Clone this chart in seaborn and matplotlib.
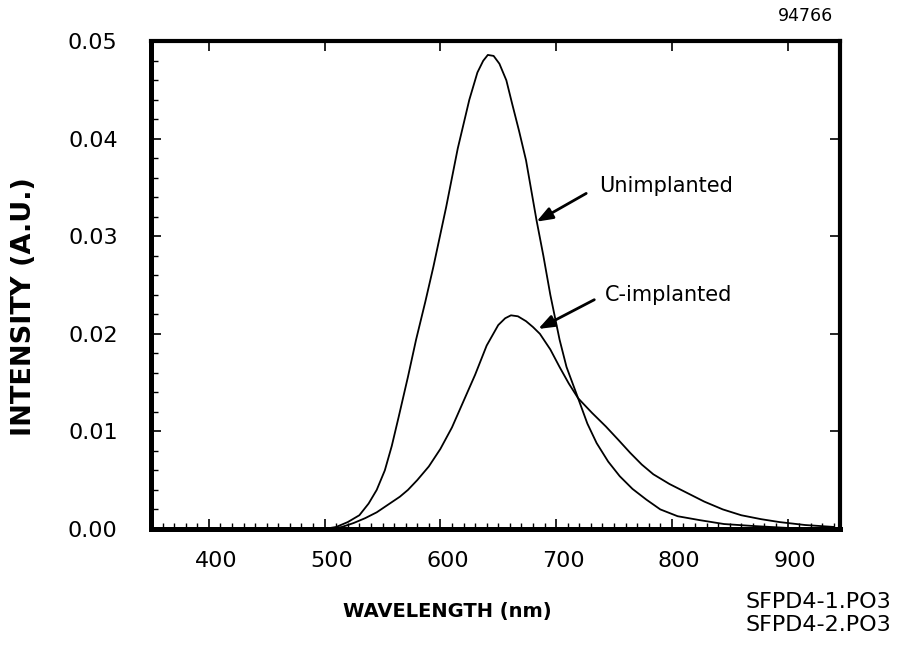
# PL spectra, unimplanted vs C-implanted
import numpy as np
import pandas as pd
import seaborn as sns
import matplotlib.pyplot as plt
from matplotlib.ticker import MultipleLocator
from matplotlib.transforms import ScaledTranslation

# data
unimp_nm = [500, 510, 520, 530, 538, 545, 552, 558, 564, 572, 579, 587, 594, 605, 615,
            625, 632, 637, 641, 646, 651, 657, 662, 668, 674, 683, 689, 695, 703, 709,
            719, 727, 735, 745, 755, 766, 778, 790, 805, 824, 845, 870, 900, 940]
unimp_int = [0.0, 0.0002, 0.0007, 0.0014, 0.0026, 0.0040, 0.0060, 0.0085, 0.0115, 0.0156,
             0.0194, 0.0233, 0.0269, 0.0330, 0.0390, 0.0440, 0.0468, 0.0480, 0.0486, 0.0485,
             0.0477, 0.0460, 0.0436, 0.0408, 0.0378, 0.0317, 0.0280, 0.0240, 0.0194, 0.0166,
             0.0134, 0.0108, 0.0088, 0.0069, 0.0054, 0.0041, 0.0030, 0.0020, 0.0013, 0.0009,
             0.0005, 0.0003, 0.0001, 0.0]

cimp_nm = [505, 515, 525, 535, 545, 555, 565, 572, 580, 590, 600, 610, 620, 630, 640,
           650, 656, 661, 667, 674, 680, 686, 695, 703, 711, 719, 731, 743, 754, 764,
           774, 784, 798, 813, 828, 844, 860, 877, 893, 915, 940]
cimp_int = [0.0, 0.0002, 0.0006, 0.0011, 0.0017, 0.0025, 0.0033, 0.0040, 0.0050, 0.0064,
            0.0082, 0.0104, 0.0131, 0.0158, 0.0188, 0.0209, 0.0216, 0.0219, 0.0218, 0.0213,
            0.0207, 0.0200, 0.0184, 0.0166, 0.0149, 0.0134, 0.0119, 0.0105, 0.0091, 0.0078,
            0.0066, 0.0056, 0.0046, 0.0037, 0.0028, 0.0020, 0.0014, 0.0010, 0.0007, 0.0004,
            0.0002]

x_ticks = [400, 500, 600, 700, 800, 900]
y_ticks = [0.00, 0.01, 0.02, 0.03, 0.04, 0.05]
y_tick_labels = ['0.00', '0.01', '0.02', '0.03', '0.04', '0.05']

df = pd.concat([
    pd.DataFrame({'wavelength': unimp_nm, 'intensity': unimp_int, 'sample': 'Unimplanted'}),
    pd.DataFrame({'wavelength': cimp_nm, 'intensity': cimp_int, 'sample': 'C-implanted'}),
])

sns.set_theme(style='white')
plt.rcParams['font.family'] = ['DejaVu Sans']
plt.rcParams['text.color'] = 'black'
plt.rcParams['axes.labelcolor'] = 'black'
plt.rcParams['xtick.color'] = 'black'
plt.rcParams['ytick.color'] = 'black'

fig = plt.figure(figsize=(8.99, 6.45), dpi=100)
ax = fig.add_axes([0.168, 0.180, 0.766, 0.756])

sns.lineplot(data=df, x='wavelength', y='intensity', hue='sample', estimator=None,
             sort=False, palette=['black', 'black'], linewidth=1.3, legend=False, ax=ax)

ax.set_xlim(350, 945)
ax.set_ylim(0, 0.05)

# frame
for side in ['left', 'bottom']:
    ax.spines[side].set_linewidth(3.6)
for side in ['top', 'right']:
    ax.spines[side].set_linewidth(3.0)
for s in ax.spines.values():
    s.set_color('black')
    s.set_visible(True)

ax.set_xticks(x_ticks)
ax.xaxis.set_minor_locator(MultipleLocator(10))
ax.set_yticks(y_ticks)
ax.set_yticklabels(y_tick_labels)
ax.yaxis.set_minor_locator(MultipleLocator(0.002))

ax.tick_params(axis='x', which='major', direction='in', length=7, width=1.2,
               top=True, bottom=True, labelsize=16, pad=16)
ax.tick_params(axis='x', which='minor', direction='in', length=4, width=1.0,
               top=False, bottom=True)
ax.tick_params(axis='y', which='major', direction='in', length=7, width=1.2,
               left=True, right=True, labelsize=16, pad=24)
ax.tick_params(axis='y', which='minor', direction='in', length=5, width=1.0,
               left=True, right=False)

# the x labels sit a little right of their ticks in the original
for lab in ax.get_xticklabels():
    lab.set_transform(lab.get_transform() + ScaledTranslation(7 / 100, 0, fig.dpi_scale_trans))

ax.set_xlabel('WAVELENGTH (nm)', fontsize=14, fontweight='heavy')
ax.set_ylabel('INTENSITY (A.U.)', fontsize=19.5, fontweight='heavy')
ax.xaxis.set_label_coords(0.43, -0.15)
ax.yaxis.set_label_coords(-0.165, 0.455)

arrow = dict(arrowstyle='-|>,head_length=0.8,head_width=0.3', color='black', lw=2,
             shrinkA=0, shrinkB=0)
ax.annotate('', xy=(683, 0.0315), xytext=(726, 0.0344), arrowprops=arrow)
ax.annotate('', xy=(684.5, 0.0205), xytext=(733, 0.0235), arrowprops=arrow)
ax.text(737, 0.0352, 'Unimplanted', fontsize=15, va='center', ha='left')
ax.text(742, 0.0240, 'C-implanted', fontsize=15, va='center', ha='left')

fig.text(0.8955, 0.975, '94766', fontsize=12.5, ha='center', va='center')
fig.text(0.829, 0.066, 'SFPD4-1.PO3', fontsize=16, ha='left', va='center')
fig.text(0.829, 0.031, 'SFPD4-2.PO3', fontsize=16, ha='left', va='center')

fig.savefig('out.png', dpi=100)
